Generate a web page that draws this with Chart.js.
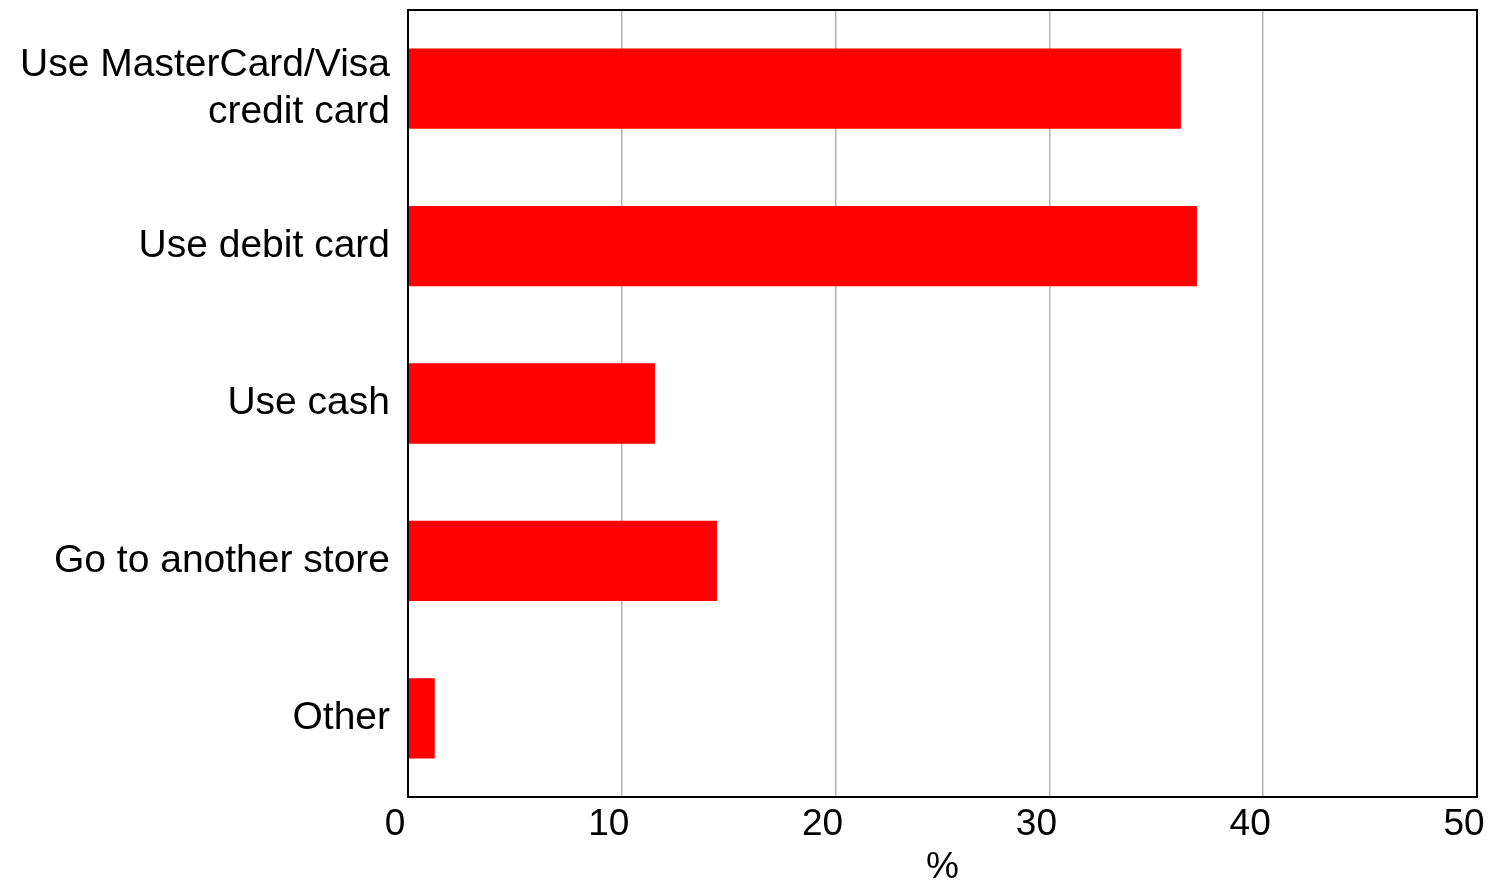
<!DOCTYPE html>
<html>
<head>
<meta charset="utf-8">
<script src="https://cdn.jsdelivr.net/npm/chart.js@4"></script>
<style>
	body { margin: 0; background: #fff; }
	#wrap { width: 1492px; height: 881px; position: relative; }
</style>
</head>
<body>
<div id="wrap"><canvas id="payChart"></canvas></div>
<script>
// chart data
var categories = [['Use MasterCard/Visa', 'credit card'], 'Use debit card', 'Use cash', 'Go to another store', 'Other'];
var percentValues = [36.15, 36.9, 11.55, 14.45, 1.25];
var xTicks = [0, 10, 20, 30, 40, 50];

var fontFamily = '"Liberation Sans", Arial, Helvetica, sans-serif';

// box round the plot area
var frameBox = {
	id: 'frameBox',
	afterDraw: function(chart){
		var a = chart.chartArea, ctx = chart.ctx;
		ctx.save();
		ctx.strokeStyle = '#000';
		ctx.lineWidth = 2;
		ctx.strokeRect(a.left, a.top, a.right - a.left, a.bottom - a.top);
		ctx.restore();
	}
};

var ctx = document.getElementById('payChart').getContext('2d');
var payChart = new Chart(ctx, {
	type: 'bar',
	data: {
		labels: categories,
		datasets: [{
			data: percentValues,
			backgroundColor: '#ff0000',
			borderWidth: 0,
			barPercentage: 0.51,
			categoryPercentage: 1
		}]
	},
	options: {
		indexAxis: 'y',
		responsive: true,
		maintainAspectRatio: false,
		animation: false,
		layout: { padding: { top: 10, right: 15, left: 0, bottom: 0 } },
		plugins: {
			legend: { display: false },
			tooltip: { enabled: false }
		},
		scales: {
			x: {
				min: 0,
				max: 50,
				afterBuildTicks: function(scale){
					scale.ticks = xTicks.map(function(v){ return { value: v }; });
				},
				afterFit: function(scale){
					scale.height = 84;
					scale.paddingLeft = 0;
					scale.paddingRight = 0;
				},
				grid: { color: '#b4b4b4', lineWidth: 1.5, drawTicks: false },
				border: { color: '#000', width: 2 },
				ticks: {
					color: '#000',
					padding: 6,
					labelOffset: -13,
					maxRotation: 0,
					font: { family: fontFamily, size: 37 }
				},
				title: {
					display: true,
					text: '%',
					color: '#000',
					padding: { top: 0, bottom: -2 },
					font: { family: fontFamily, size: 37, lineHeight: 0.8 }
				}
			},
			y: {
				afterFit: function(scale){
					scale.width = 408;
					scale.paddingTop = 0;
					scale.paddingBottom = 0;
				},
				grid: { display: false, drawTicks: false },
				border: { color: '#000', width: 2 },
				ticks: {
					color: '#000',
					padding: 18,
					font: { family: fontFamily, size: 39, lineHeight: 1.2 }
				}
			}
		}
	},
	plugins: [frameBox]
});
</script>
</body>
</html>
